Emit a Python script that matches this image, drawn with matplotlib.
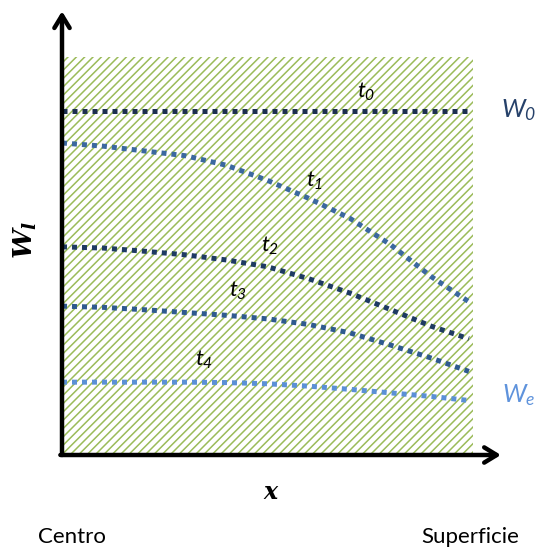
import matplotlib
matplotlib.use("Agg")
import matplotlib.pyplot as plt
from matplotlib.patches import Rectangle

plt.rcParams["mathtext.fontset"] = "custom"
plt.rcParams["mathtext.it"] = "Lato:italic"
plt.rcParams["mathtext.rm"] = "Lato:italic"
plt.rcParams["hatch.linewidth"] = 1.1

# Normalised position from centre (0) to surface (1)
x_pos = [0.0, 0.1, 0.2, 0.3, 0.4, 0.5, 0.6, 0.7, 0.8, 0.9, 0.99]

# Moisture profiles at successive times
w_t0 = [0.864] * 11
w_t1 = [0.784, 0.776, 0.764, 0.752, 0.728, 0.690, 0.645, 0.595, 0.528, 0.447, 0.385]
w_t2 = [0.523, 0.520, 0.512, 0.503, 0.490, 0.473, 0.443, 0.407, 0.365, 0.323, 0.292]
w_t3 = [0.374, 0.371, 0.365, 0.358, 0.351, 0.342, 0.328, 0.307, 0.276, 0.243, 0.210]
w_t4 = [0.183, 0.183, 0.183, 0.183, 0.182, 0.179, 0.173, 0.165, 0.156, 0.147, 0.137]

profiles = [w_t0, w_t1, w_t2, w_t3, w_t4]
colors = ["#1c2f4f", "#3b689f", "#1e3a62", "#2f5a8f", "#5b90d6"]
labels = [r"$t_0$", r"$t_1$", r"$t_2$", r"$t_3$", r"$t_4$"]
label_xy = [(0.74, 0.912), (0.615, 0.69), (0.505, 0.525), (0.427, 0.413), (0.345, 0.24)]

fig = plt.figure(figsize=(5.39, 5.52), dpi=100)
ax = fig.add_axes([62 / 539, 1 - 455 / 552, 411 / 539, 398 / 552])
ax.set_xlim(0, 1)
ax.set_ylim(0, 1)
ax.axis("off")

# Hatched region
ax.add_patch(Rectangle((0, 0), 1, 1, facecolor="white", edgecolor="#9bbb59",
                       hatch="////", lw=0, zorder=0))

for w, c in zip(profiles, colors):
    ax.plot(x_pos, w, color=c, lw=3.6, linestyle=(0, (1, 1)),
            dash_capstyle="butt", zorder=3, clip_on=False)

for (lx, ly), lab in zip(label_xy, labels):
    ax.text(lx, ly, lab, fontsize=16, ha="center", va="center", color="black", zorder=4)

# Axes arrows
arrow_props = dict(arrowstyle="->,head_length=0.9,head_width=0.55", lw=3.2,
                   color="black", shrinkA=0, shrinkB=0)
ax.annotate("", xy=(0, 1.115), xytext=(0, 0), xycoords="data",
            arrowprops=arrow_props, annotation_clip=False)
ax.annotate("", xy=(1.068, 0), xytext=(-0.004, 0), xycoords="data",
            arrowprops=arrow_props, annotation_clip=False)

# Side labels
fig.text(519 / 539, 1 - 110 / 552, r"$W_0$", fontsize=18, color="#26416a",
         ha="center", va="center")
fig.text(519 / 539, 1 - 395 / 552, r"$W_e$", fontsize=18, color="#5f93dc",
         ha="center", va="center")

fig.text(25 / 539, 1 - 240 / 552, r"$\mathbfit{W}_{\mathbfit{l}}$", fontsize=19,
         rotation=90, ha="center", va="center", math_fontfamily="dejavuserif")
fig.text(271 / 539, 1 - 492 / 552, r"$\mathbfit{x}$", fontsize=17,
         ha="center", va="center", math_fontfamily="dejavuserif")

fig.text(72 / 539, 1 - 537 / 552, "Centro", fontsize=16, family="Lato",
         ha="center", va="center")
fig.text(470 / 539, 1 - 537 / 552, "Superficie", fontsize=16, family="Lato",
         ha="center", va="center")

fig.savefig("out.png", dpi=100)
